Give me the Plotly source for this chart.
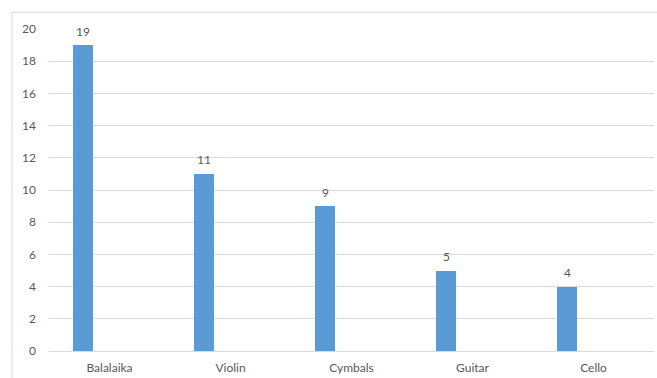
import plotly.graph_objects as go

categories = ["Balalaika", "Violin", "Cymbals", "Guitar", "Cello"]
values = [19, 11, 9, 5, 4]
y_ticks = [0, 2, 4, 6, 8, 10, 12, 14, 16, 18, 20]

BAR_WIDTH = 0.17
BAR_OFFSET = -0.304

fig = go.Figure()
fig.add_trace(go.Bar(
    x=categories, y=values,
    marker=dict(color="#5B9BD5", line=dict(width=0)),
    width=BAR_WIDTH, offset=BAR_OFFSET,
    cliponaxis=False,
))

# data labels above each bar
for c, v in zip(categories, values):
    fig.add_annotation(
        x=c, y=v, text=str(v), showarrow=False,
        xref="x", yref="y", xanchor="center", yanchor="middle",
        xshift=(BAR_OFFSET + BAR_WIDTH / 2) * 121, yshift=14,
        font=dict(family="Lato", size=12, color="#595959"),
    )

fig.update_layout(
    width=657, height=378,
    margin=dict(l=49, r=3, t=29, b=27),
    paper_bgcolor="white", plot_bgcolor="white",
    showlegend=False,
    font=dict(family="Lato", size=12, color="#595959"),
    bargap=0,
)
fig.update_xaxes(
    range=[-0.5, 4.5], showgrid=False, showline=False, zeroline=False,
    ticks="", tickfont=dict(family="Lato", size=12, color="#595959"),
    ticklabelstandoff=8,
)
fig.update_yaxes(
    range=[0, 20], tickvals=y_ticks, showgrid=True, gridcolor="#D9D9D9",
    gridwidth=1, zeroline=True, zerolinecolor="#D9D9D9", zerolinewidth=1,
    showline=False, ticks="", ticklabelstandoff=12,
    tickfont=dict(family="Lato", size=12, color="#595959"),
)
# chart-area border (left and top edges visible)
fig.add_shape(type="line", xref="paper", yref="paper",
              x0=-0.0612, x1=1.1, y0=1.052, y1=1.052,
              line=dict(color="#D9D9D9", width=1))
fig.add_shape(type="line", xref="paper", yref="paper",
              x0=-0.0612, x1=-0.0612, y0=-0.2, y1=1.052,
              line=dict(color="#D9D9D9", width=1))

fig.write_html("out.html")
